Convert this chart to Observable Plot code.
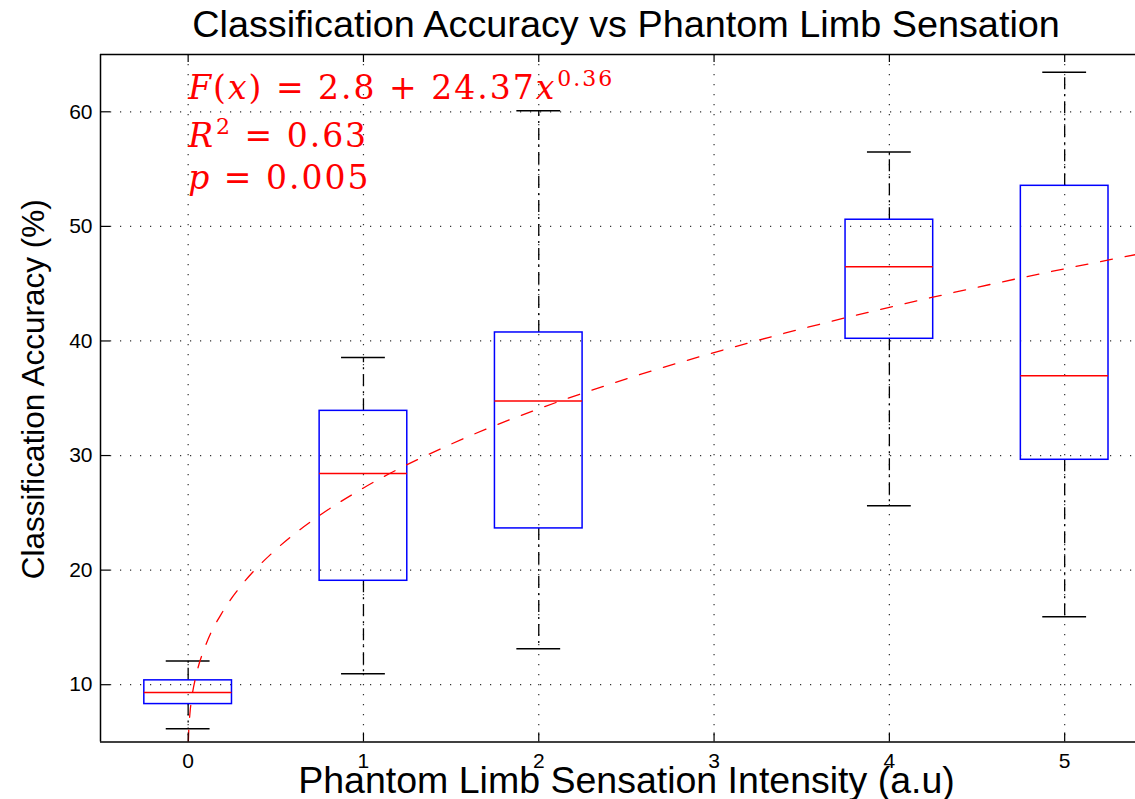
<!DOCTYPE html>
<html><head><meta charset="utf-8">
<script src="https://cdn.jsdelivr.net/npm/d3@7"></script>
<script src="https://cdn.jsdelivr.net/npm/@observablehq/plot@0.6"></script>
<style>html,body{margin:0;padding:0;background:#fff;overflow:hidden}svg{display:block}</style>
</head><body><div id="chart"></div>
<script>
// ---- data ----
const titleText = "Classification Accuracy vs Phantom Limb Sensation";
const xLabelText = "Phantom Limb Sensation Intensity (a.u)";
const yLabelText = "Classification Accuracy (%)";
const annotLines = ["F(x) = 2.8 + 24.37x^0.36", "R^2 = 0.63", "p = 0.005"];
const xTicks = [0, 1, 2, 3, 4, 5];
const yTicks = [10, 20, 30, 40, 50, 60];
const positions   = [0, 1, 2, 4, 5];
const whiskerLow  = [6.16, 10.95, 13.14, 25.62, 15.93];
const q1          = [8.31, 19.07, 23.64, 40.19, 29.63];
const median      = [9.33, 28.44, 34.76, 46.47, 36.96];
const q3          = [10.38, 33.90, 40.74, 50.58, 53.54];
const whiskerHigh = [12.07, 38.56, 60.10, 56.50, 63.46];
const fitX = [0, 0.001, 0.002, 0.01, 0.02, 0.05, 0.1, 0.2, 0.3, 0.5, 0.75, 1, 1.5, 2, 2.5, 3, 3.5, 4, 4.5, 5, 5.5];
const fitY = [2.8, 4.83, 5.4, 7.46, 8.76, 11.09, 13.44, 16.45, 18.6, 21.79, 24.77, 27.17, 31.0, 34.08, 36.69, 38.99, 41.06, 42.94, 44.68, 46.3, 47.82];

// ---- layout ----
const W = 1135, H = 799, mL = 100, mR = 0, mT = 54, mB = 57.5;
const fh = H - mT - mB, fw = W - mL - mR;
const xDomain = [-0.5, 5.404], yDomain = [5, 65];
const boxHalf = 0.25, capHalf = 0.125;

const boxes = positions.map((p, i) => ({p, lo: whiskerLow[i], q1: q1[i], med: median[i], q3: q3[i], hi: whiskerHigh[i]}));
const fit = fitX.map((x, i) => ({x, y: fitY[i]}));

const gridStyle = {stroke: "#333", strokeWidth: 1.2, strokeDasharray: "1.2,8.8"};
const black = "#000";

const svg = Plot.plot({
  width: W, height: H,
  marginLeft: mL, marginRight: mR, marginTop: mT, marginBottom: mB,
  x: {domain: xDomain},
  y: {domain: yDomain},
  style: {fontFamily: "'Liberation Sans', Arial, sans-serif", background: "#fff", color: "#000"},
  marks: [
    // grid
    Plot.ruleY(yTicks, {y: d => d, ...gridStyle}),
    Plot.ruleX(xTicks, {x: d => d, ...gridStyle}),
    // whiskers
    Plot.ruleX(boxes, {x: "p", y1: "q3", y2: "hi", stroke: black, strokeWidth: 1.3, strokeDasharray: "12,5,2,5"}),
    Plot.ruleX(boxes, {x: "p", y1: "q1", y2: "lo", stroke: black, strokeWidth: 1.3, strokeDasharray: "12,5,2,5"}),
    Plot.ruleY(boxes, {y: "hi", x1: d => d.p - capHalf, x2: d => d.p + capHalf, stroke: black, strokeWidth: 1.5}),
    Plot.ruleY(boxes, {y: "lo", x1: d => d.p - capHalf, x2: d => d.p + capHalf, stroke: black, strokeWidth: 1.5}),
    // boxes
    Plot.rect(boxes, {x1: d => d.p - boxHalf, x2: d => d.p + boxHalf, y1: "q1", y2: "q3", fill: "none", stroke: "#0000ff", strokeWidth: 1.5}),
    Plot.ruleY(boxes, {y: "med", x1: d => d.p - boxHalf, x2: d => d.p + boxHalf, stroke: "#ff0000", strokeWidth: 1.5}),
    // fit
    Plot.line(fit, {x: "x", y: "y", stroke: "#ff0000", strokeWidth: 1.3, strokeDasharray: "12,13", curve: "monotone-x", clip: true}),
    // axes frame
    Plot.ruleX([xDomain[0]], {x: d => d, stroke: black, strokeWidth: 1.5}),
    Plot.ruleY([yDomain[0]], {y: d => d, stroke: black, strokeWidth: 1.5}),
    Plot.ruleY([yDomain[1]], {y: d => d, stroke: black, strokeWidth: 1.5}),
    // inward ticks
    Plot.ruleX(xTicks, {x: d => d, insetTop: fh - 9, stroke: black, strokeWidth: 1.2}),
    Plot.ruleX(xTicks, {x: d => d, insetBottom: fh - 8, stroke: black, strokeWidth: 1.2}),
    Plot.ruleY(yTicks, {y: d => d, insetRight: fw - 10, stroke: black, strokeWidth: 1.2}),
    // tick labels
    Plot.axisX({ticks: xTicks, tickSize: 0, tickPadding: 11, fontSize: 21, label: null, tickFormat: d => String(d)}),
    Plot.axisY({ticks: yTicks, tickSize: 0, tickPadding: 8, fontSize: 21, label: null, tickFormat: d => String(d)}),
    // titles
    Plot.text([titleText], {text: d => d, frameAnchor: "top", lineAnchor: "bottom", dx: 8, dy: 36 - mT, fontSize: 37.8, fill: black}),
    Plot.text([xLabelText], {text: d => d, frameAnchor: "bottom", lineAnchor: "bottom", dx: 8.5, dy: 50.5, fontSize: 37.5, fill: black}),
    Plot.text([yLabelText], {text: d => d, frameAnchor: "left", textAnchor: "middle", lineAnchor: "bottom", rotate: -90, dx: 43 - mL, dy: -9, fontSize: 31.5, fill: black}),
    // annotation
    ...annotLines.map((t, i) => Plot.text([t], {
      x: 0, text: d => d, frameAnchor: "top", lineAnchor: "bottom", textAnchor: "start",
      dy: [98, 146, 188][i] - mT, fill: "#ff0000", fontSize: 33, fontFamily: "'DejaVu Serif', serif"
    }))
  ]
});

// rich text: italic variables, superscripts
const NS = "http://www.w3.org/2000/svg";
function rich(el, str) {
  el.textContent = "";
  el.setAttribute("letter-spacing", "2");
  const re = /\^(\S+)|([A-Za-z]+)|([^A-Za-z^]+)/g;
  let m, raised = 0;
  while ((m = re.exec(str))) {
    const t = document.createElementNS(NS, "tspan");
    if (m[1]) {
      t.textContent = m[1];
      t.setAttribute("font-size", "22");
      t.setAttribute("dy", "-13");
      t.setAttribute("dx", "1");
      raised = 13;
    } else {
      if (m[2]) t.setAttribute("font-style", "italic");
      t.textContent = m[2] || m[3];
      if (raised) { t.setAttribute("dy", String(raised)); raised = 0; }
    }
    el.appendChild(t);
  }
}
svg.querySelectorAll("text").forEach(el => {
  const s = el.textContent;
  if (annotLines.includes(s)) rich(el, s);
});

document.getElementById("chart").appendChild(svg);
</script>
</body></html>
